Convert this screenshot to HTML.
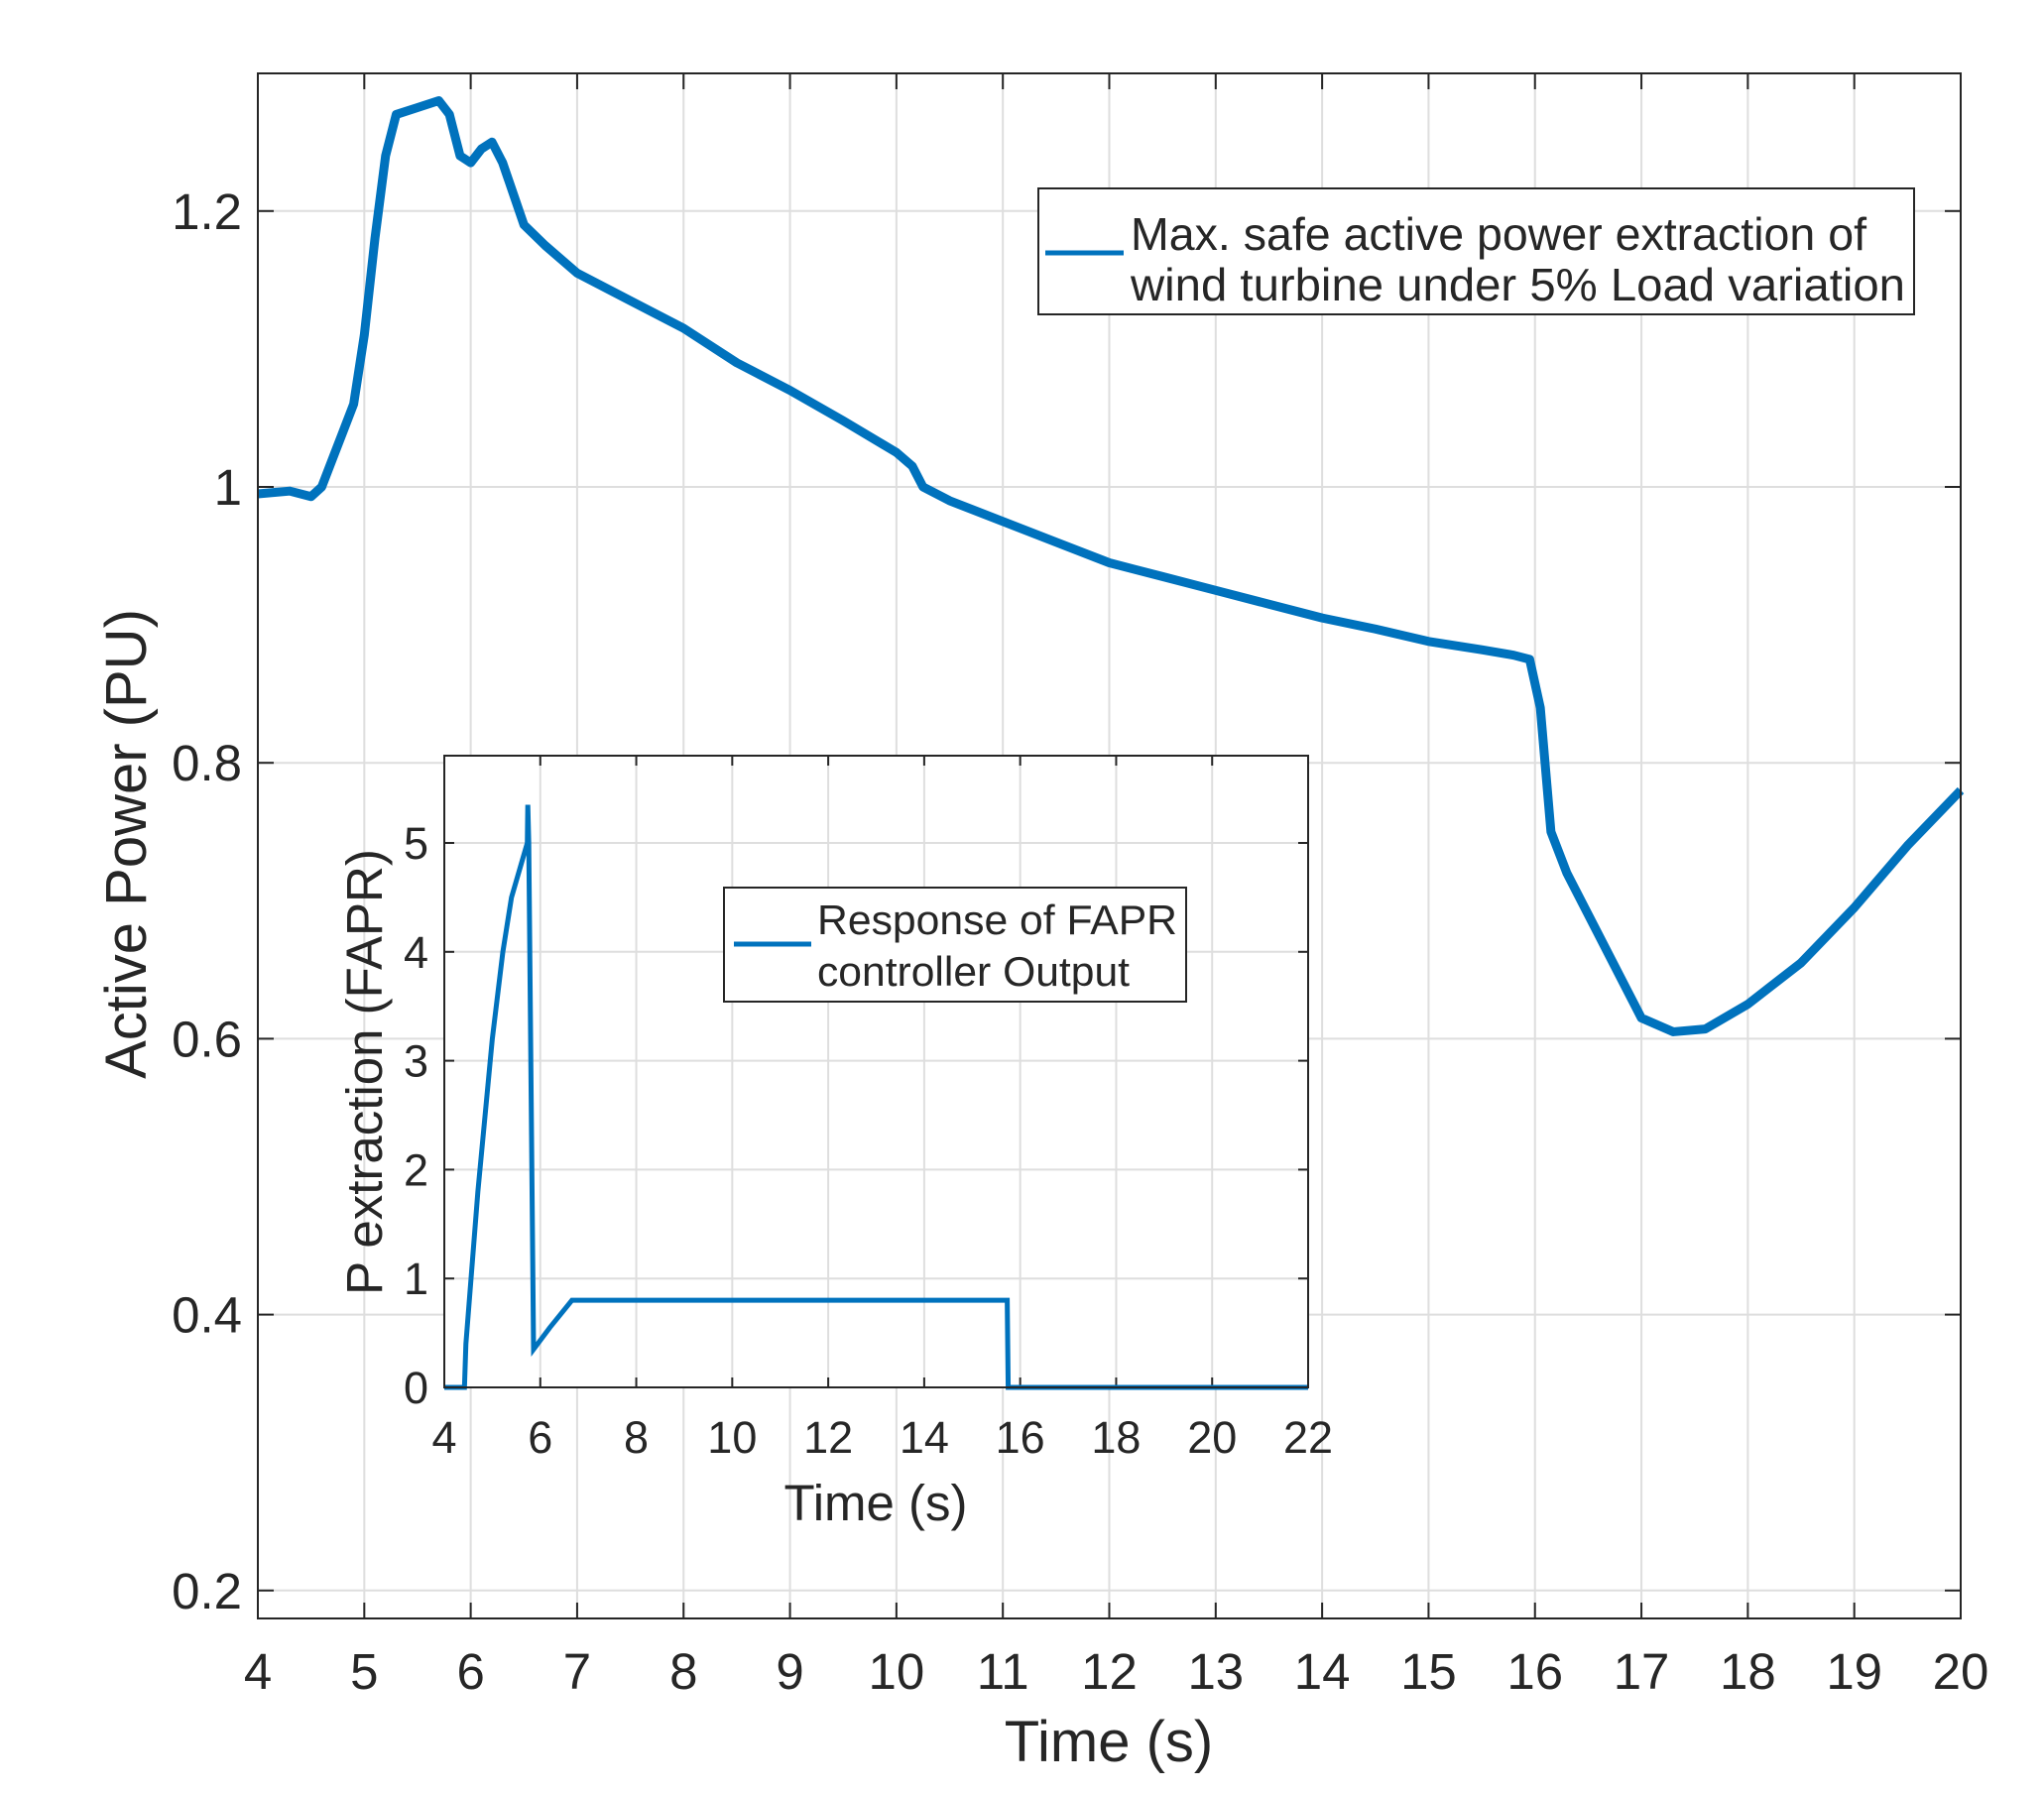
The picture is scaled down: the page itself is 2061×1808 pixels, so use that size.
<!DOCTYPE html>
<html><head><meta charset="utf-8"><style>
html,body{margin:0;padding:0;background:#fff}
svg{display:block}
text{font-family:"Liberation Sans",sans-serif;fill:#262626}
</style></head><body>
<svg id="chart" width="2061" height="1808" viewBox="0 0 2061 1808" xmlns="http://www.w3.org/2000/svg"></svg>
<script>
const mainT=[4,4.3,4.5,4.6,4.7,4.8,4.9,5.0,5.1,5.2,5.3,5.5,5.7,5.8,5.9,6.0,6.1,6.2,6.3,6.5,6.7,7.0,7.5,8.0,8.5,9.0,9.5,10.0,10.15,10.25,10.5,11,11.5,12,12.5,13,13.5,14,14.5,15,15.5,15.8,15.95,16.05,16.15,16.3,16.5,16.8,17.0,17.3,17.6,18,18.5,19,19.5,20];
const mainP=[0.995,0.997,0.993,1.0,1.02,1.04,1.06,1.11,1.18,1.24,1.27,1.275,1.28,1.27,1.24,1.235,1.245,1.25,1.235,1.19,1.175,1.155,1.135,1.115,1.09,1.07,1.048,1.025,1.015,1.0,0.99,0.975,0.96,0.945,0.935,0.925,0.915,0.905,0.897,0.888,0.882,0.878,0.875,0.84,0.75,0.72,0.69,0.645,0.615,0.605,0.607,0.625,0.655,0.695,0.74,0.78];
const insetT=[4,4.42,4.45,4.7,5.0,5.22,5.4,5.73,5.74,5.76,5.86,6.2,6.66,15.73,15.75,22];
const insetP=[0,0,0.4,1.8,3.2,4.0,4.5,5.0,5.35,5.0,0.35,0.55,0.8,0.8,0,0];
const mainXTicks=[4,5,6,7,8,9,10,11,12,13,14,15,16,17,18,19,20];
const mainYTicks=[0.2,0.4,0.6,0.8,1,1.2];
const mainYLabels=["0.2","0.4","0.6","0.8","1","1.2"];
const insetXTicks=[4,6,8,10,12,14,16,18,20,22];
const insetYTicks=[0,1,2,3,4,5];

const NS="http://www.w3.org/2000/svg";
const svg=document.getElementById('chart');
function mk(tag,attrs,parent){const e=document.createElementNS(NS,tag);for(const k in attrs)e.setAttribute(k,attrs[k]);(parent||svg).appendChild(e);return e;}

const L=260,R=1977,T=74,B=1632;
const xs=v=>L+(v-4)*(R-L)/16;
const ys=v=>491-(v-1)*1391;
const iL=448,iR=1319,iT=762,iB=1399;
const ixs=v=>iL+(v-4)*(iR-iL)/18;
const iys=v=>iB-v*109.8;

const gMain=mk('g',{});


mk('rect',{x:L,y:T,width:R-L,height:B-T,fill:'#fff'},gMain);
mainXTicks.forEach(v=>{
  const l=mk('line',{x1:xs(v),x2:xs(v),y1:T,y2:B,stroke:'#dedede','stroke-width':2},gMain);
  
  
  mk('line',{x1:xs(v),x2:xs(v),y1:B,y2:B-16,stroke:'#262626','stroke-width':2},gMain);
  mk('line',{x1:xs(v),x2:xs(v),y1:T,y2:T+16,stroke:'#262626','stroke-width':2},gMain);
  const t=mk('text',{x:xs(v),y:1703,'font-size':51,'text-anchor':'middle'},gMain);
  t.textContent=String(v);
  
  
});
mainYTicks.forEach((v,i)=>{
  const l=mk('line',{x1:L,x2:R,y1:ys(v),y2:ys(v),stroke:'#dedede','stroke-width':2},gMain);
  
  
  mk('line',{x1:L,x2:L+16,y1:ys(v),y2:ys(v),stroke:'#262626','stroke-width':2},gMain);
  mk('line',{x1:R,x2:R-16,y1:ys(v),y2:ys(v),stroke:'#262626','stroke-width':2},gMain);
  const t=mk('text',{x:244,y:ys(v)+18,'font-size':51,'text-anchor':'end'},gMain);
  t.textContent=mainYLabels[i];
  
  
});
const mp=mk('polyline',{points:mainT.map((t,i)=>xs(t)+','+ys(mainP[i])).join(' '),fill:'none',stroke:'#0072BD','stroke-width':9,'stroke-linejoin':'round'},gMain);


mk('rect',{x:L,y:T,width:R-L,height:B-T,fill:'none',stroke:'#262626','stroke-width':2},gMain);

const xt=mk('text',{x:1118,y:1776,'font-size':58,'text-anchor':'middle'});
xt.textContent='Time (s)';


const yt=mk('text',{x:0,y:0,'font-size':58,'text-anchor':'middle',transform:'translate(147,851) rotate(-90)'});
yt.textContent='Active Power (PU)';



const lg=mk('g',{});


mk('rect',{x:1047,y:190,width:883,height:127,fill:'#fff',stroke:'#262626','stroke-width':2},lg);
mk('line',{x1:1054,x2:1133,y1:255,y2:255,stroke:'#0072BD','stroke-width':5},lg);
const lt1=mk('text',{x:1140,y:252,'font-size':46,textLength:742,lengthAdjust:'spacingAndGlyphs'},lg);
lt1.textContent='Max. safe active power extraction of';
const lt2=mk('text',{x:1140,y:303,'font-size':46,textLength:781,lengthAdjust:'spacingAndGlyphs'},lg);
lt2.textContent='wind turbine under 5% Load variation';

const gI=mk('g',{});


mk('rect',{x:iL,y:iT,width:iR-iL,height:iB-iT,fill:'#fff'},gI);
insetXTicks.forEach(v=>{
  mk('line',{x1:ixs(v),x2:ixs(v),y1:iT,y2:iB,stroke:'#dedede','stroke-width':2},gI);
  mk('line',{x1:ixs(v),x2:ixs(v),y1:iB,y2:iB-10,stroke:'#262626','stroke-width':2},gI);
  mk('line',{x1:ixs(v),x2:ixs(v),y1:iT,y2:iT+10,stroke:'#262626','stroke-width':2},gI);
  const t=mk('text',{x:ixs(v),y:1465,'font-size':45,'text-anchor':'middle'},gI);
  t.textContent=String(v);
  
  
});
insetYTicks.forEach(v=>{
  mk('line',{x1:iL,x2:iR,y1:iys(v),y2:iys(v),stroke:'#dedede','stroke-width':2},gI);
  mk('line',{x1:iL,x2:iL+10,y1:iys(v),y2:iys(v),stroke:'#262626','stroke-width':2},gI);
  mk('line',{x1:iR,x2:iR-10,y1:iys(v),y2:iys(v),stroke:'#262626','stroke-width':2},gI);
  const t=mk('text',{x:432,y:iys(v)+16,'font-size':45,'text-anchor':'end'},gI);
  t.textContent=String(v);
  
  
});
const ip=mk('polyline',{points:insetT.map((t,i)=>ixs(t)+','+iys(insetP[i])).join(' '),fill:'none',stroke:'#0072BD','stroke-width':5,'stroke-linejoin':'miter'},gI);


mk('rect',{x:iL,y:iT,width:iR-iL,height:iB-iT,fill:'none',stroke:'#262626','stroke-width':2},gI);
const ixt=mk('text',{x:883,y:1533,'font-size':51,'text-anchor':'middle'});
ixt.textContent='Time (s)';


const iyt=mk('text',{x:0,y:0,'font-size':51,'text-anchor':'middle',transform:'translate(385,1081) rotate(-90)'});
iyt.textContent='P extraction (FAPR)';



const il=mk('g',{});


mk('rect',{x:730,y:895,width:466,height:115,fill:'#fff',stroke:'#262626','stroke-width':2},il);
mk('line',{x1:740,x2:818,y1:952,y2:952,stroke:'#0072BD','stroke-width':5},il);
const il1=mk('text',{x:824,y:942,'font-size':42,textLength:363,lengthAdjust:'spacingAndGlyphs'},il);
il1.textContent='Response of FAPR';
const il2=mk('text',{x:824,y:994,'font-size':42,textLength:315,lengthAdjust:'spacingAndGlyphs'},il);
il2.textContent='controller Output';
</script>
</body></html>
